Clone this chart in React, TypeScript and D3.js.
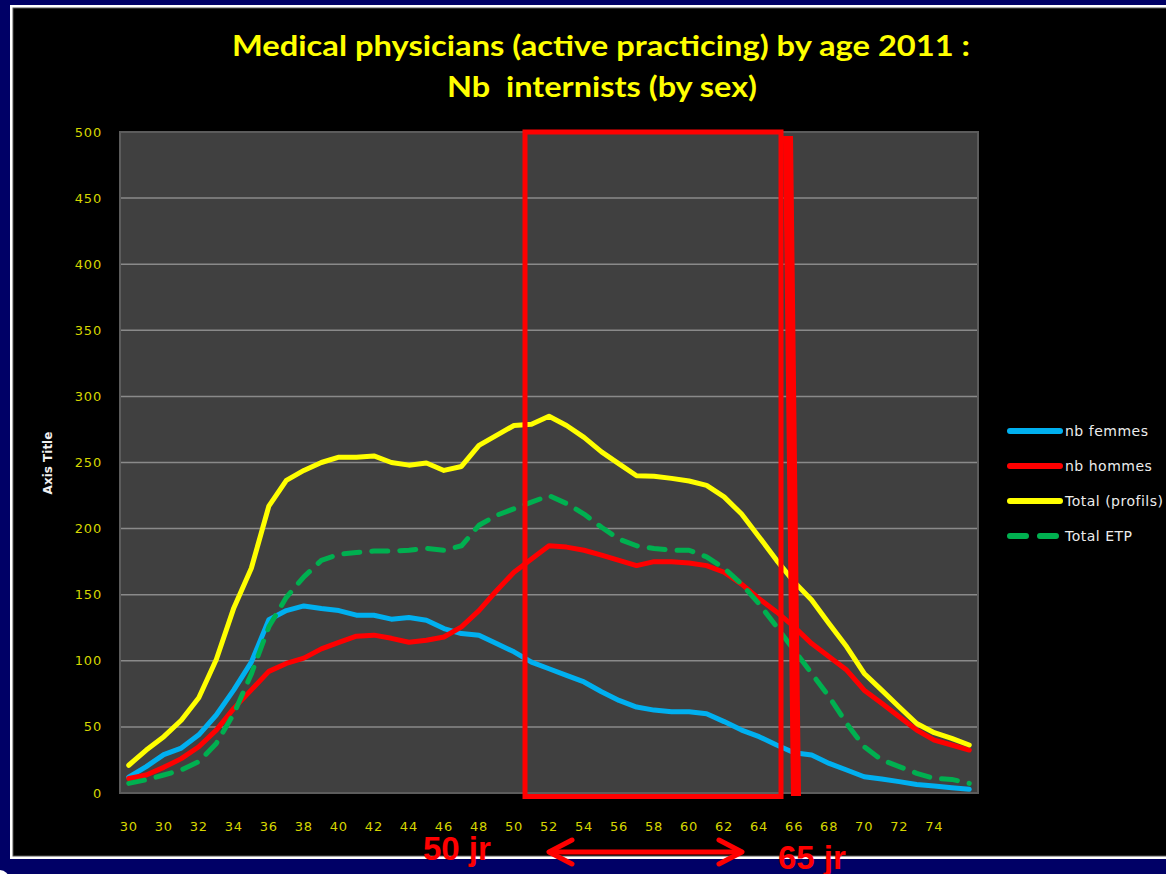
import React from "react";
import * as d3 from "d3";

// ---------- data ----------
const categories = [
  "30", "29", "30", "31", "32", "33", "34", "35", "36", "37", "38", "39", "40",
  "41", "42", "43", "44", "45", "46", "47", "48", "49", "50", "51", "52", "53",
  "54", "55", "56", "57", "58", "59", "60", "61", "62", "63", "64", "65", "66",
  "67", "68", "69", "70", "71", "72", "73", "74", "75", "76",
];

const nbFemmes = [
  12, 20, 29, 34, 44, 59, 78, 99, 131, 138, 141.5, 139.5, 138, 134.5, 134.5, 131.5,
  132.7, 130.7, 124.4, 120.6, 119.4, 113, 106.8, 99, 94, 89, 84, 76.6, 70, 65, 62.7,
  61.5, 61.5, 60, 54, 47.6, 42.6, 36.3, 30.5, 28.7, 22.4, 17.4, 12.3, 10.6, 8.6, 6.5,
  5.3, 4, 2.8,
];

const nbHommes = [
  11, 13.6, 19.4, 26, 35, 47.6, 64, 78, 92, 98, 102, 109, 114, 118.6, 119.4, 117,
  114, 115.6, 118, 125.7, 138, 153, 167, 177, 187, 186, 183.6, 180, 176, 172, 175,
  175, 174, 172, 167, 158, 147, 137, 125.7, 113, 103, 93, 77.8, 67.8, 57.7, 47.6,
  40, 36.3, 32.5,
];

const totalProfils = [
  21, 32.5, 42.6, 55, 72, 101, 140, 170, 217, 236.5, 244, 250, 254, 254, 255, 250,
  248, 249.6, 244, 247, 263, 270.5, 278, 279, 285, 278, 269, 258, 249, 240, 239.6,
  238, 236, 232.7, 224, 211, 193.7, 176, 159.7, 146, 128, 110.6, 90.4, 77.8, 65,
  52.6, 45.6, 41.3, 36.3,
];

const totalETP = [
  7.3, 10, 13.6, 17.4, 23.7, 37.5, 60, 90, 125.7, 148, 163.5, 176, 180.6, 182, 183,
  183, 183.6, 185, 183.6, 187, 202.5, 210, 215, 220, 225, 219, 211, 201, 192, 187,
  185, 183.6, 183.6, 178.6, 170, 158, 143, 125.7, 108, 90.4, 72.8, 52.6, 35, 25, 20,
  14.9, 11, 10.3, 7.3,
];

const yTicks = [0, 50, 100, 150, 200, 250, 300, 350, 400, 450, 500];
const xTickIndices = [0, 2, 4, 6, 8, 10, 12, 14, 16, 18, 20, 22, 24, 26, 28, 30, 32, 34, 36, 38, 40, 42, 44, 46];

const seriesNames = ["nb femmes", "nb hommes", "Total (profils)", "Total ETP"];
const seriesColors = ["#00b0f0", "#ff0000", "#ffff00", "#00b050"];
const seriesData = [nbFemmes, nbHommes, totalProfils, totalETP];

const titleLines = ["Medical physicians (active practicing) by age 2011 :", "Nb  internists (by sex)"];

// ---------- component ----------
export default function App() {
  const W = 1166;
  const H = 874;
  const left = 120, right = 978, top = 132, bottom = 793;

  const x = d3
    .scaleBand<number>()
    .domain(categories.map((_, i) => i))
    .range([left, right]);
  const cx = (i: number) => (x(i) as number) + x.bandwidth() / 2;
  const y = d3.scaleLinear().domain([0, 500]).range([bottom, top]);

  const line = d3
    .line<number>()
    .x((_, i) => cx(i))
    .y((d) => y(d));

  const tickFont = "'DejaVu Sans', sans-serif";
  const tickColor = "#d6d600";

  return (
    <svg
      width={W}
      height={H}
      style={{ position: "absolute", left: 0, top: 0 }}
      xmlns="http://www.w3.org/2000/svg"
    >
      {/* frame */}
      <rect x={0} y={0} width={W} height={H} fill="#000066" />
      <rect x={10} y={5} width={W} height={854} fill="#ffffff" />
      <rect x={13} y={8} width={W} height={848} fill="#000000" stroke="#555" strokeWidth={1} />
      <circle cx={0} cy={879} r={9} fill="#ffffff" />

      {/* title */}
      <text
        x={601}
        y={56}
        textAnchor="middle"
        fill="#ffff00"
        fontFamily="Lato, 'Open Sans', sans-serif"
        fontWeight="bold"
        fontSize={29}
        textLength={738}
        lengthAdjust="spacingAndGlyphs"
      >
        {titleLines[0]}
      </text>
      <text
        x={602}
        y={97}
        textAnchor="middle"
        fill="#ffff00"
        fontFamily="Lato, 'Open Sans', sans-serif"
        fontWeight="bold"
        fontSize={29}
        textLength={310}
        lengthAdjust="spacingAndGlyphs"
        style={{ whiteSpace: "pre" }}
      >
        {titleLines[1]}
      </text>

      {/* plot area */}
      <rect x={left} y={top} width={right - left} height={bottom - top} fill="#404040" />
      {yTicks
        .filter((t) => t > 0)
        .map((t) => (
          <line key={t} x1={left} x2={right} y1={y(t)} y2={y(t)} stroke="#8a8a8a" strokeWidth={1.5} />
        ))}
      <rect x={left} y={top} width={right - left} height={bottom - top} fill="none" stroke="#5c5c5c" strokeWidth={2} />

      {/* y tick labels */}
      {yTicks.map((t) => (
        <text
          key={t}
          x={102}
          y={y(t)}
          dy="0.35em"
          textAnchor="end"
          fill={tickColor}
          fontFamily={tickFont}
          fontSize={13}
          letterSpacing={0.8}
        >
          {t}
        </text>
      ))}

      {/* x tick labels */}
      {xTickIndices.map((i) => (
        <text
          key={i}
          x={cx(i)}
          y={826}
          dy="0.35em"
          textAnchor="middle"
          fill={tickColor}
          fontFamily={tickFont}
          fontSize={13}
          letterSpacing={0.8}
        >
          {categories[i]}
        </text>
      ))}

      {/* axis title */}
      <text
        transform="translate(52,463) rotate(-90)"
        textAnchor="middle"
        fill="#f0f0f0"
        fontFamily={tickFont}
        fontWeight="bold"
        fontSize={12}
      >
        Axis Title
      </text>

      {/* series */}
      {seriesData.map((d, s) => (
        <path
          key={s}
          d={line(d) || ""}
          fill="none"
          stroke={seriesColors[s]}
          strokeWidth={5}
          strokeLinejoin="round"
          strokeLinecap="round"
          strokeDasharray={s === 3 ? "16 12" : undefined}
        />
      ))}

      {/* legend */}
      {seriesNames.map((name, s) => {
        const ly = 431 + s * 35;
        return (
          <g key={name}>
            <line
              x1={1010}
              x2={s === 3 ? 1058 : 1060}
              y1={ly}
              y2={ly}
              stroke={seriesColors[s]}
              strokeWidth={6}
              strokeLinecap="round"
              strokeDasharray={s === 3 ? "16 14" : undefined}
            />
            <text
              x={1065}
              y={ly}
              dy="0.35em"
              fill="#ececec"
              fontFamily={tickFont}
              fontSize={14}
              letterSpacing={0.5}
            >
              {name}
            </text>
          </g>
        );
      })}

      {/* annotations */}
      <rect x={525} y={132} width={256} height={664.5} fill="none" stroke="#ff0000" strokeWidth={5} />
      <polygon points="783,136 793,136 801,796 791,796" fill="#ff0000" />
      <g stroke="#ff0000" strokeWidth={5} strokeLinecap="round" strokeLinejoin="round" fill="none">
        <line x1={550} x2={741} y1={852} y2={852} />
        <polyline points="572,840 549,852 572,864" />
        <polyline points="719,840 742,852 719,864" />
      </g>
      <text
        x={423}
        y={860}
        fill="#ff0000"
        fontFamily="'Liberation Sans', Arial, sans-serif"
        fontWeight="bold"
        fontSize={33}
      >
        50 jr
      </text>
      <text
        x={778}
        y={869}
        fill="#ff0000"
        fontFamily="'Liberation Sans', Arial, sans-serif"
        fontWeight="bold"
        fontSize={33}
      >
        65 jr
      </text>
    </svg>
  );
}
